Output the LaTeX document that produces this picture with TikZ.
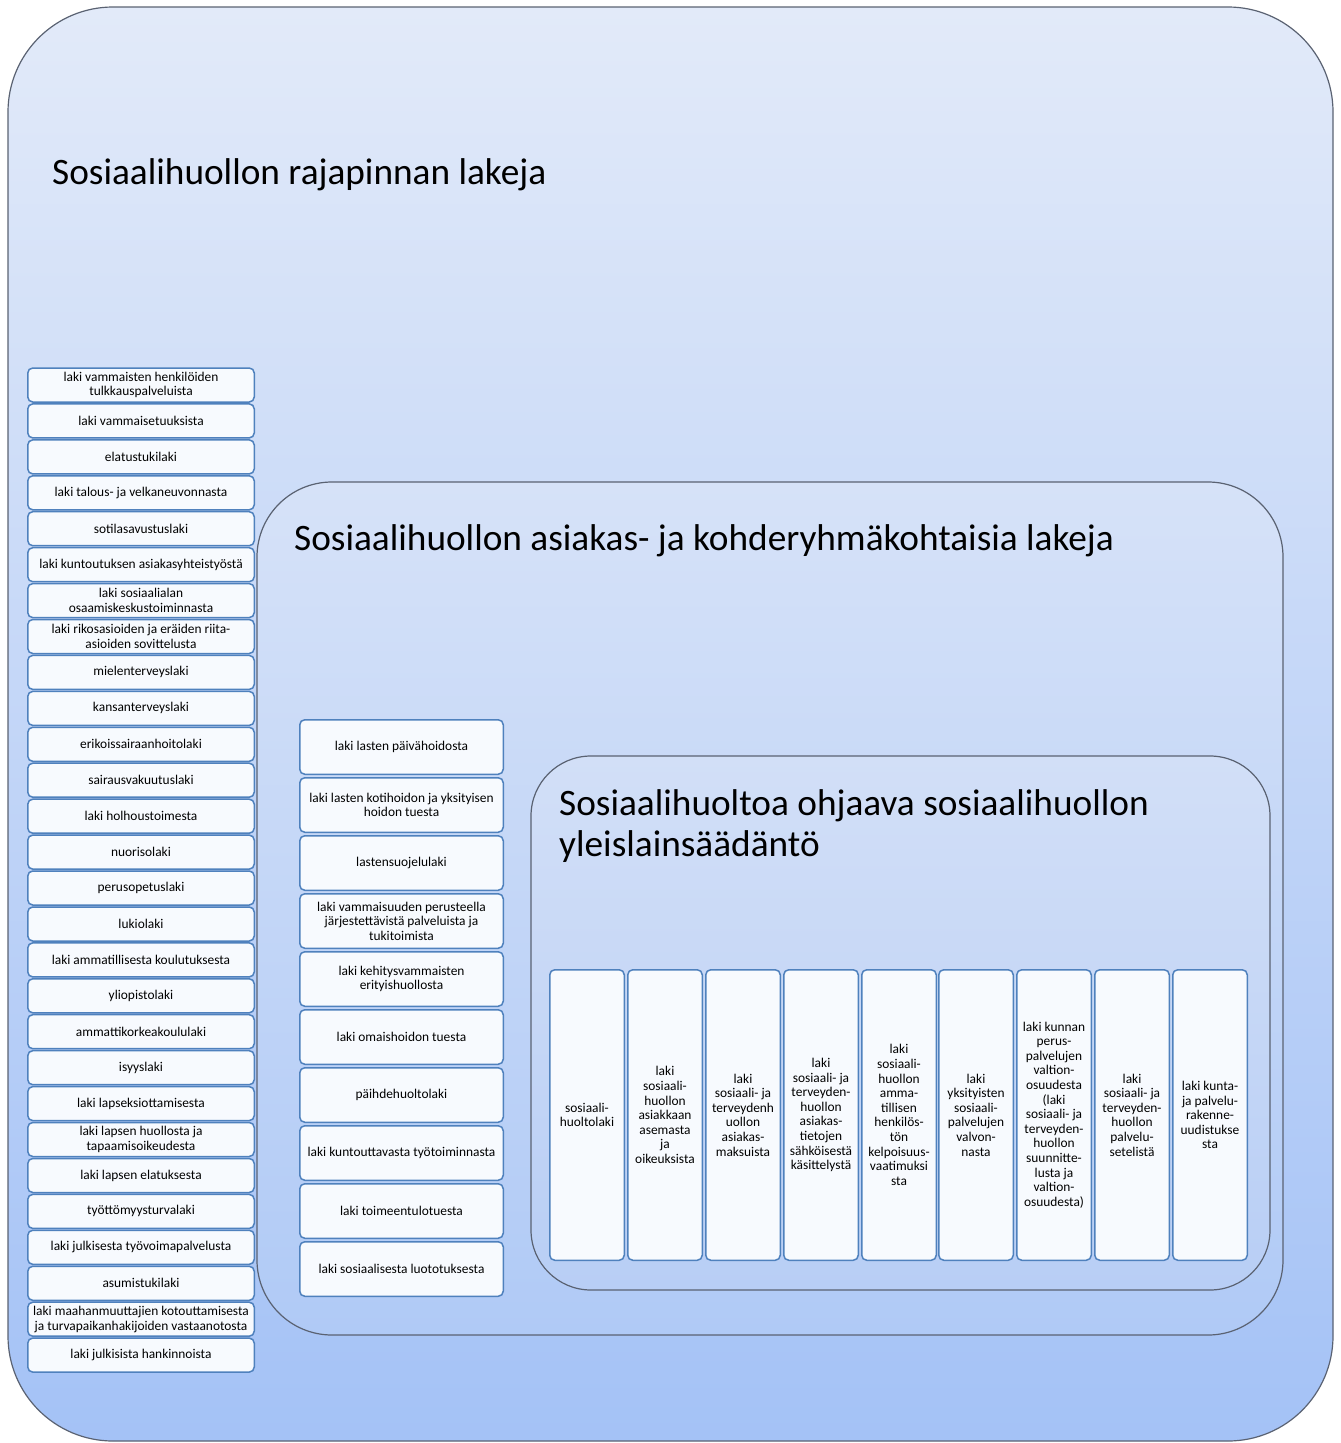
\documentclass[tikz,border=0pt]{standalone}
\usepackage{fontspec}
\setmainfont{Carlito}
\usetikzlibrary{positioning}

\definecolor{lawblue}{RGB}{79,129,189}
\definecolor{lawfill}{RGB}{247,250,254}
\definecolor{framegray}{RGB}{90,98,114}
\definecolor{bgtop}{RGB}{226,234,249}
\definecolor{bgbottom}{RGB}{164,194,246}
\definecolor{midtop}{RGB}{214,226,248}
\definecolor{midbottom}{RGB}{176,202,246}
\definecolor{intop}{RGB}{210,223,247}
\definecolor{inbottom}{RGB}{184,206,245}

\tikzset{
  lawbox/.style={draw=lawblue, fill=lawfill, line width=1.5pt, rounded corners=5pt,
    align=center, inner sep=1pt, font=\fontsize{13.4}{14.6}\selectfont},
  leftlaw/.style={lawbox, minimum width=226.5pt, minimum height=34pt},
  midlaw/.style={lawbox, minimum width=203.5pt, minimum height=54.5pt},
  corelaw/.style={lawbox, minimum width=74.5pt, minimum height=290.5pt},
  frametitle/.style={anchor=west, align=left, inner sep=0pt, font=\fontsize{37.3}{41}\selectfont}
}

\begin{document}
\begin{tikzpicture}[x=1pt,y=-1pt]
\useasboundingbox (0,0) rectangle (1341,1443);

% frames
\draw[framegray, line width=1.2pt, top color=bgtop, bottom color=bgbottom, rounded corners=105pt] (8,7) rectangle (1333,1441);
\draw[framegray, line width=1.2pt, top color=midtop, bottom color=midbottom, rounded corners=75pt] (257,482) rectangle (1283,1335);
\draw[framegray, line width=1.2pt, top color=intop, bottom color=inbottom, rounded corners=60pt] (531,756) rectangle (1270,1290);

\node[frametitle] (outertitle) at (52,175) {Sosiaalihuollon rajapinnan lakeja};
\node[frametitle] (midtitle) at (294,541) {Sosiaalihuollon asiakas- ja kohderyhmäkohtaisia lakeja};
\node[frametitle] (coretitle) at (559,826) {Sosiaalihuoltoa ohjaava sosiaalihuollon\\yleislainsäädäntö};

% left column
\node[leftlaw] (l1) at (141,385.0) {laki vammaisten henkilöiden\\tulkkauspalveluista};
\node[leftlaw] (l2) at (141,420.9) {laki vammaisetuuksista};
\node[leftlaw] (l3) at (141,456.9) {elatustukilaki};
\node[leftlaw] (l4) at (141,492.8) {laki talous- ja velkaneuvonnasta};
\node[leftlaw] (l5) at (141,528.7) {sotilasavustuslaki};
\node[leftlaw] (l6) at (141,564.7) {laki kuntoutuksen asiakasyhteistyöstä};
\node[leftlaw] (l7) at (141,600.6) {laki sosiaalialan\\osaamiskeskustoiminnasta};
\node[leftlaw] (l8) at (141,636.5) {laki rikosasioiden ja eräiden riita-\\asioiden sovittelusta};
\node[leftlaw] (l9) at (141,672.4) {mielenterveyslaki};
\node[leftlaw] (l10) at (141,708.4) {kansanterveyslaki};
\node[leftlaw] (l11) at (141,744.3) {erikoissairaanhoitolaki};
\node[leftlaw] (l12) at (141,780.2) {sairausvakuutuslaki};
\node[leftlaw] (l13) at (141,816.2) {laki holhoustoimesta};
\node[leftlaw] (l14) at (141,852.1) {nuorisolaki};
\node[leftlaw] (l15) at (141,888.0) {perusopetuslaki};
\node[leftlaw] (l16) at (141,924.0) {lukiolaki};
\node[leftlaw] (l17) at (141,959.9) {laki ammatillisesta koulutuksesta};
\node[leftlaw] (l18) at (141,995.8) {yliopistolaki};
\node[leftlaw] (l19) at (141,1031.7) {ammattikorkeakoululaki};
\node[leftlaw] (l20) at (141,1067.7) {isyyslaki};
\node[leftlaw] (l21) at (141,1103.6) {laki lapseksiottamisesta};
\node[leftlaw] (l22) at (141,1139.5) {laki lapsen huollosta ja\\tapaamisoikeudesta};
\node[leftlaw] (l23) at (141,1175.5) {laki lapsen elatuksesta};
\node[leftlaw] (l24) at (141,1211.4) {työttömyysturvalaki};
\node[leftlaw] (l25) at (141,1247.3) {laki julkisesta työvoimapalvelusta};
\node[leftlaw] (l26) at (141,1283.3) {asumistukilaki};
\node[leftlaw] (l27) at (141,1319.2) {laki maahanmuuttajien kotouttamisesta\\ja turvapaikanhakijoiden vastaanotosta};
\node[leftlaw] (l28) at (141,1355.1) {laki julkisista hankinnoista};

% middle column
\node[midlaw] (m1) at (401.5,747) {laki lasten päivähoidosta};
\node[midlaw] (m2) at (401.5,805) {laki lasten kotihoidon ja yksityisen\\hoidon tuesta};
\node[midlaw] (m3) at (401.5,863) {lastensuojelulaki};
\node[midlaw] (m4) at (401.5,921) {laki vammaisuuden perusteella\\järjestettävistä palveluista ja\\tukitoimista};
\node[midlaw] (m5) at (401.5,979) {laki kehitysvammaisten\\erityishuollosta};
\node[midlaw] (m6) at (401.5,1037) {laki omaishoidon tuesta};
\node[midlaw] (m7) at (401.5,1095) {päihdehuoltolaki};
\node[midlaw] (m8) at (401.5,1153) {laki kuntouttavasta työtoiminnasta};
\node[midlaw] (m9) at (401.5,1211) {laki toimeentulotuesta};
\node[midlaw] (m10) at (401.5,1269) {laki sosiaalisesta luototuksesta};

% general legislation row
\node[corelaw] (s1) at (587,1115) {sosiaali-\\huoltolaki};
\node[corelaw] (s2) at (665,1115) {laki\\sosiaali-\\huollon\\asiakkaan\\asemasta\\ja\\oikeuksista};
\node[corelaw] (s3) at (743,1115) {laki\\sosiaali- ja\\terveydenh\\uollon\\asiakas-\\maksuista};
\node[corelaw] (s4) at (821,1115) {laki\\sosiaali- ja\\terveyden-\\huollon\\asiakas-\\tietojen\\sähköisestä\\käsittelystä};
\node[corelaw] (s5) at (899,1115) {laki\\sosiaali-\\huollon\\amma-\\tillisen\\henkilös-\\tön\\kelpoisuus-\\vaatimuksi\\sta};
\node[corelaw] (s6) at (976,1115) {laki\\yksityisten\\sosiaali-\\palvelujen\\valvon-\\nasta};
\node[corelaw] (s7) at (1054,1115) {laki kunnan\\perus-\\palvelujen\\valtion-\\osuudesta\\(laki\\sosiaali- ja\\terveyden-\\huollon\\suunnitte-\\lusta ja\\valtion-\\osuudesta)};
\node[corelaw] (s8) at (1132,1115) {laki\\sosiaali- ja\\terveyden-\\huollon\\palvelu-\\setelistä};
\node[corelaw] (s9) at (1210,1115) {laki kunta-\\ja palvelu-\\rakenne-\\uudistukse\\sta};

\end{tikzpicture}
\end{document}
